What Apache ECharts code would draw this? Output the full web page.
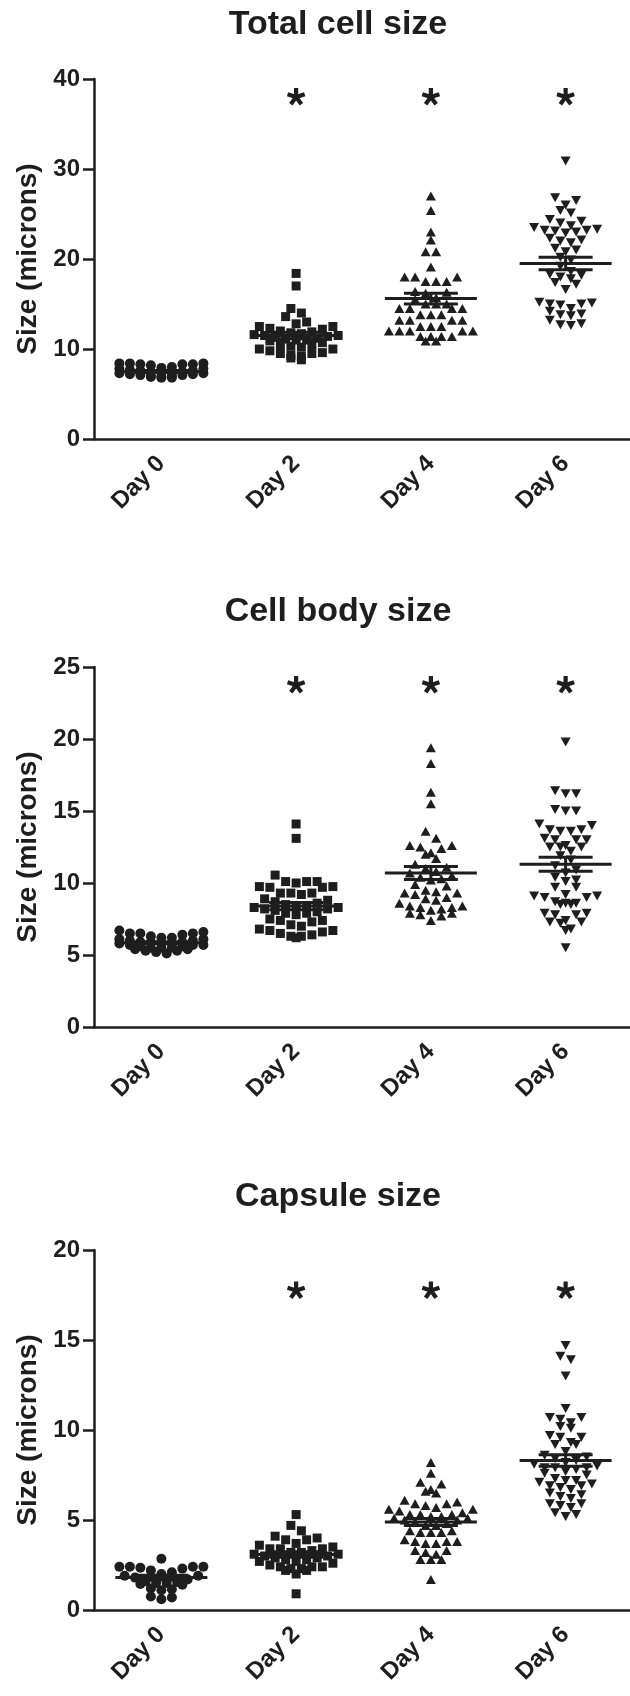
<!DOCTYPE html>
<html>
<head>
<meta charset="utf-8">
<style>
  html, body { margin: 0; padding: 0; background: #fff; }
  #chart { width: 630px; height: 1696px; }
</style>
</head>
<body>
<div id="chart"></div>
<script src="https://cdn.jsdelivr.net/npm/echarts@6/dist/echarts.min.js"></script>
<script>
const days = ['Day 0', 'Day 2', 'Day 4', 'Day 6'];

// Total cell size (microns)
const totalDay0 = [8.4, 8.3, 8.4, 8.3, 8.4, 8.3, 8.2, 8.0, 7.9, 7.8, 7.8, 7.7, 7.6, 7.6, 7.5,
  7.5, 7.4, 7.4, 7.3, 7.3, 7.2, 7.2, 7.1, 7.1, 7.0, 7.0, 6.9, 6.9, 6.8, 6.8];
const totalDay2 = [18.4, 17.0, 14.5, 14.0, 13.6, 13.0, 12.8, 12.5, 12.5, 12.3, 12.2, 12.0, 11.9,
  11.8, 11.7, 11.6, 11.5, 11.5, 11.4, 11.3, 11.2, 11.1, 11.0, 11.0, 10.9, 10.7, 10.5, 10.5,
  10.3, 10.2, 10.0, 10.0, 9.8, 9.6, 9.5, 9.5, 9.3, 9.2, 9.0, 8.8];
const totalDay4 = [27.0, 25.4, 23.0, 22.1, 20.8, 20.8, 19.1, 18.0, 18.0, 18.0, 17.5, 17.5, 17.5,
  16.4, 16.3, 16.2, 15.7, 15.5, 15.0, 15.0, 15.0, 14.5, 14.5, 14.5, 14.5, 13.8, 13.8, 13.8,
  13.2, 13.2, 13.2, 13.2, 12.5, 12.5, 12.5, 12.0, 12.0, 12.0, 12.0, 12.0, 11.4, 11.4, 11.4,
  11.4, 10.9, 10.9];
const totalDay6 = [30.9, 26.8, 26.5, 26.0, 25.4, 25.1, 24.4, 24.2, 24.0, 23.7, 23.5, 23.3, 23.2,
  23.2, 23.1, 23.0, 22.9, 22.3, 22.1, 22.0, 21.8, 21.2, 21.0, 20.8, 20.2, 19.9, 19.2, 18.6,
  18.3, 18.2, 18.0, 17.8, 17.4, 17.2, 16.6, 15.2, 15.1, 15.0, 15.0, 14.9, 14.5, 14.2, 13.9,
  13.8, 13.7, 13.2, 12.8, 12.7, 12.6];
const totalMean = [7.5, 11.5, 15.6, 19.5];
const totalSem = [0.1, 0.35, 0.6, 0.7];
const totalStars = [38, 38, 38];

// Cell body size (microns)
const bodyDay0 = [6.7, 6.6, 6.5, 6.5, 6.5, 6.4, 6.3, 6.2, 6.2, 6.1, 6.1, 6.0, 6.0, 5.9, 5.9, 5.9,
  5.8, 5.8, 5.8, 5.7, 5.7, 5.7, 5.6, 5.6, 5.5, 5.5, 5.5, 5.4, 5.4, 5.3, 5.3, 5.2, 5.1];
const bodyDay2 = [14.1, 13.1, 10.55, 10.1, 10.1, 10.1, 10.0, 9.75, 9.75, 9.7, 9.7, 9.3, 9.3, 9.3,
  9.2, 8.9, 8.8, 8.7, 8.6, 8.5, 8.4, 8.4, 8.3, 8.3, 8.2, 8.2, 8.1, 8.0, 7.9, 7.9, 7.8, 7.5,
  7.4, 7.4, 7.3, 7.1, 7.0, 6.8, 6.7, 6.7, 6.6, 6.5, 6.4, 6.3, 6.3, 6.2];
const bodyDay4 = [19.4, 18.3, 16.3, 15.5, 13.6, 13.1, 12.6, 12.6, 12.5, 12.4, 12.1, 12.0, 11.7,
  11.3, 11.1, 11.0, 10.8, 10.7, 10.5, 10.4, 10.3, 10.2, 9.9, 9.8, 9.5, 9.4, 9.3, 9.3, 9.2, 9.0,
  8.9, 8.8, 8.6, 8.4, 8.4, 8.3, 8.3, 8.2, 8.1, 7.9, 7.9, 7.8, 7.7, 7.4];
const bodyDay6 = [19.8, 16.4, 16.2, 16.2, 15.1, 15.0, 15.0, 14.1, 14.0, 13.7, 13.7, 13.6, 13.6,
  13.1, 13.0, 13.0, 13.0, 12.6, 12.5, 12.5, 12.5, 12.2, 11.9, 11.6, 11.2, 10.9, 10.7, 10.4,
  10.2, 10.1, 9.7, 9.7, 9.2, 9.1, 9.1, 9.0, 9.0, 8.7, 8.6, 8.6, 8.5, 8.5, 7.9, 7.9, 7.8, 7.8,
  7.4, 7.3, 7.3, 7.2, 6.8, 6.7, 5.5];
const bodyMean = [5.85, 8.4, 10.7, 11.3];
const bodySem = [0.07, 0.25, 0.45, 0.48];
const bodyStars = [23.75, 23.75, 23.75];

// Capsule size (microns)
const capsDay0 = [2.85, 2.4, 2.4, 2.4, 2.4, 2.35, 2.3, 2.2, 2.1, 2.0, 1.9, 1.9, 1.8, 1.7, 1.6,
  1.55, 1.5, 1.5, 1.45, 1.4, 1.2, 1.15, 1.1, 0.75, 0.7, 0.6];
const capsDay2 = [5.3, 4.7, 4.4, 4.1, 4.0, 3.9, 3.9, 3.7, 3.6, 3.5, 3.4, 3.4, 3.4, 3.3, 3.2, 3.2,
  3.1, 3.1, 3.0, 3.0, 2.9, 2.9, 2.8, 2.8, 2.7, 2.7, 2.6, 2.5, 2.4, 2.4, 2.4, 2.3, 2.3, 2.2,
  2.2, 2.0, 0.9];
const capsDay4 = [8.2, 7.6, 7.1, 7.0, 6.7, 6.6, 6.5, 6.1, 6.0, 5.9, 5.9, 5.8, 5.7, 5.6, 5.6, 5.5,
  5.4, 5.3, 5.3, 5.3, 5.2, 5.2, 5.1, 5.1, 5.0, 5.0, 4.9, 4.8, 4.7, 4.7, 4.4, 4.4, 4.3, 4.3,
  4.3, 3.9, 3.8, 3.8, 3.8, 3.7, 3.7, 3.3, 3.3, 3.2, 3.1, 2.8, 2.8, 2.8, 1.7];
const capsDay6 = [14.7, 14.1, 13.9, 13.0, 11.2, 10.7, 10.7, 10.6, 10.4, 10.2, 10.1, 9.7, 9.6, 9.6,
  9.3, 9.2, 9.2, 8.8, 8.6, 8.5, 8.4, 8.3, 8.2, 8.1, 8.0, 7.9, 7.9, 7.9, 7.8, 7.7, 7.6, 7.5,
  7.3, 7.2, 7.2, 7.1, 7.0, 6.9, 6.9, 6.8, 6.7, 6.5, 6.4, 6.3, 6.2, 5.9, 5.9, 5.8, 5.7, 5.4,
  5.3, 5.2];
const capsMean = [1.8, 3.08, 4.89, 8.3];
const capsSem = [0.13, 0.15, 0.2, 0.32];
const capsStars = [17.75, 17.75, 17.75];

const panels = [
  { title: 'Total cell size', titleY: 25, top: 79, max: 40, interval: 10,
    groups: [totalDay0, totalDay2, totalDay4, totalDay6], mean: totalMean, sem: totalSem, stars: totalStars },
  { title: 'Cell body size', titleY: 612, top: 667, max: 25, interval: 5,
    groups: [bodyDay0, bodyDay2, bodyDay4, bodyDay6], mean: bodyMean, sem: bodySem, stars: bodyStars },
  { title: 'Capsule size', titleY: 1197, top: 1250, max: 20, interval: 5,
    groups: [capsDay0, capsDay2, capsDay4, capsDay6], mean: capsMean, sem: capsSem, stars: capsStars },
];

const FONT = '"Liberation Sans", Arial, sans-serif';
const INK = '#1e1e1e';
const GRID_LEFT = 94;
const GRID_W = 539;
const GRID_H = 360;
const BAND = GRID_W / 4;
const COL_W = 10.5;   // horizontal spacing between neighbouring dots, px
const ROW_H = 8;      // dots closer than this (px) share a row
const MAX_COLS = 9;

const symbols = [
  { symbol: 'circle', size: 10, rotate: 0 },
  { symbol: 'rect', size: 9, rotate: 0 },
  { symbol: 'triangle', size: [10, 9], rotate: 0 },
  { symbol: 'triangle', size: [10, 9], rotate: 180 },
];

// column-scatter layout: group close values into rows, spread each row sideways
function swarm(values, groupIdx, pxPerUnit) {
  const sorted = values.slice().sort((a, b) => b - a);
  const rows = [];
  let cur = [];
  sorted.forEach(v => {
    if (cur.length && ((cur[0] - v) * pxPerUnit > ROW_H || cur.length >= MAX_COLS)) {
      rows.push(cur);
      cur = [];
    }
    cur.push(v);
  });
  if (cur.length) rows.push(cur);

  const pts = [];
  rows.forEach(row => {
    const n = row.length;
    row.forEach((v, i) => {
      const slot = i % 2 === 0 ? i / 2 : n - 1 - (i - 1) / 2;
      const off = (slot - (n - 1) / 2) * COL_W;
      pts.push([groupIdx + off / BAND, v]);
    });
  });
  return pts;
}

function meanSemItem(params, api) {
  const x = api.value(0), m = api.value(1), s = api.value(2);
  const c = api.coord([x, m]);
  const hi = api.coord([x, m + s]);
  const lo = api.coord([x, m - s]);
  const style = { stroke: INK, lineWidth: 3 };
  return {
    type: 'group',
    children: [
      { type: 'line', shape: { x1: c[0] - 46, y1: c[1], x2: c[0] + 46, y2: c[1] }, style },
      { type: 'line', shape: { x1: hi[0] - 27, y1: hi[1], x2: hi[0] + 27, y2: hi[1] }, style },
      { type: 'line', shape: { x1: lo[0] - 27, y1: lo[1], x2: lo[0] + 27, y2: lo[1] }, style },
      { type: 'line', shape: { x1: c[0], y1: hi[1], x2: c[0], y2: lo[1] }, style },
    ],
  };
}

// five-armed significance asterisk
function starItem(params, api) {
  const c = api.coord([api.value(0), api.value(1)]);
  const arm = 9;
  const angles = [-90, -18, 54, 126, 198];
  return {
    type: 'group',
    children: angles.map(a => {
      const r = a * Math.PI / 180;
      return {
        type: 'line',
        shape: { x1: c[0], y1: c[1], x2: c[0] + arm * Math.cos(r), y2: c[1] + arm * Math.sin(r) },
        style: { stroke: INK, lineWidth: 4.2 },
      };
    }),
  };
}

const grid = [], xAxis = [], yAxis = [], series = [], graphic = [];

panels.forEach((p, i) => {
  grid.push({ left: GRID_LEFT, top: p.top, width: GRID_W, height: GRID_H, outerBoundsMode: 'none' });

  // visible category axis
  xAxis.push({
    type: 'category', gridIndex: i, data: days,
    axisLine: { lineStyle: { color: INK, width: 2.5 } },
    axisTick: { alignWithLabel: true, length: 11, lineStyle: { color: INK, width: 2.5 } },
    axisLabel: { rotate: 45, margin: 21, color: INK, fontSize: 24, fontWeight: 'bold', fontFamily: FONT },
    splitLine: { show: false },
  });
  // hidden numeric axis the dots sit on
  xAxis.push({ type: 'value', gridIndex: i, min: -0.5, max: 3.5, show: false });

  yAxis.push({
    type: 'value', gridIndex: i, min: 0, max: p.max, interval: p.interval,
    name: 'Size (microns)', nameLocation: 'middle', nameGap: 52,
    nameTextStyle: { color: INK, fontSize: 28, fontWeight: 'bold', fontFamily: FONT },
    axisLine: { show: true, onZero: false, lineStyle: { color: INK, width: 2.5 } },
    axisTick: { show: true, length: 11, lineStyle: { color: INK, width: 2.5 } },
    axisLabel: { margin: 14, color: INK, fontSize: 24, fontWeight: 'bold', fontFamily: FONT },
    splitLine: { show: false },
  });

  const pxPerUnit = GRID_H / p.max;
  const xIdx = i * 2 + 1;

  p.groups.forEach((vals, g) => {
    const s = symbols[g];
    series.push({
      type: 'scatter', xAxisIndex: xIdx, yAxisIndex: i,
      symbol: s.symbol, symbolSize: s.size, symbolRotate: s.rotate,
      itemStyle: { color: INK, opacity: 1 },
      data: swarm(vals, g, pxPerUnit),
      z: 2,
    });
  });

  series.push({
    type: 'custom', xAxisIndex: xIdx, yAxisIndex: i,
    renderItem: meanSemItem,
    data: p.mean.map((m, g) => [g, m, p.sem[g]]),
    z: 3,
  });

  series.push({
    type: 'custom', xAxisIndex: xIdx, yAxisIndex: i,
    renderItem: starItem,
    data: p.stars.map((v, k) => [k + 1, v]),
    z: 4,
  });

  graphic.push({
    type: 'text', x: 338, y: p.titleY,
    style: {
      text: p.title, fill: INK, font: 'bold 34px ' + FONT,
      align: 'center', verticalAlign: 'middle',
      textAlign: 'center', textVerticalAlign: 'middle',
    },
  });
});

const chart = echarts.init(document.getElementById('chart'), null, { renderer: 'canvas' });
chart.setOption({
  animation: false,
  backgroundColor: '#fff',
  grid, xAxis, yAxis, series, graphic,
});
</script>
</body>
</html>
